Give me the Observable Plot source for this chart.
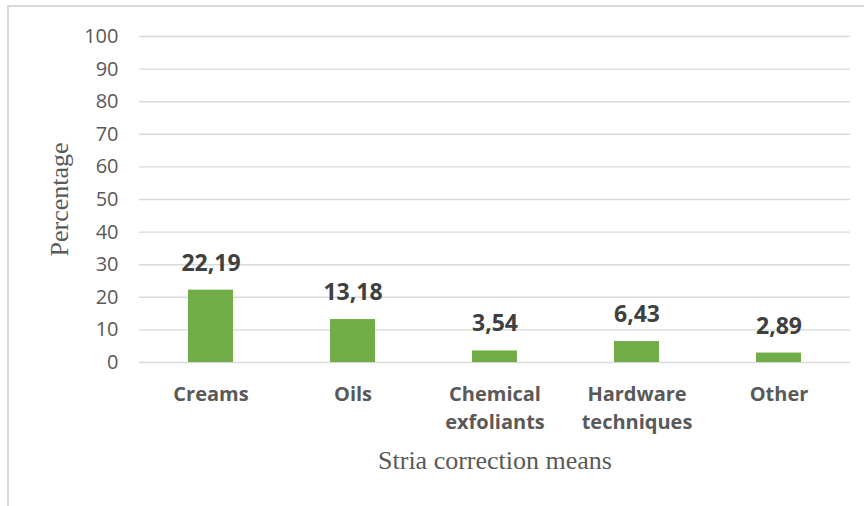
<!DOCTYPE html>
<html>
<head>
<meta charset="utf-8">
<script src="https://cdn.jsdelivr.net/npm/d3@7"></script>
<script src="https://cdn.jsdelivr.net/npm/@observablehq/plot@0.6"></script>
<style>
  html, body { margin: 0; padding: 0; background: #fff; overflow: hidden; }
  #wrap { position: relative; width: 864px; height: 506px; overflow: hidden; }
  #border { position: absolute; left: 7px; top: 5px; width: 900px; height: 600px;
            border-left: 2px solid #d9d9d9; border-top: 2px solid #d9d9d9; }
  #chart { position: absolute; left: 0; top: 0; }
</style>
</head>
<body>
<div id="wrap"><div id="border"></div><div id="chart"></div></div>
<script>
const categories = ["Creams", "Oils", "Chemical exfoliants", "Hardware techniques", "Other"];
const tickLabels = ["Creams", "Oils", "Chemical\nexfoliants", "Hardware\ntechniques", "Other"];
const values = [22.19, 13.18, 3.54, 6.43, 2.89];
const yTicks = [0, 10, 20, 30, 40, 50, 60, 70, 80, 90, 100];
const yTitle = "Percentage";
const xTitle = "Stria correction means";

const data = categories.map((c, i) => ({category: c, value: values[i]}));
const labelOf = new Map(categories.map((c, i) => [c, tickLabels[i]]));
const fmt = v => v.toFixed(2).replace(".", ",");

const sans = "'Open Sans', sans-serif";
const serif = "'Liberation Serif', 'Times New Roman', serif";

const chart = Plot.plot({
  width: 864,
  height: 506,
  marginLeft: 139,
  marginRight: 14,
  marginTop: 36,
  marginBottom: 144,
  style: {background: "transparent", fontFamily: sans},
  x: {domain: categories, paddingInner: 0.684, paddingOuter: 0.342, align: 0.5},
  y: {domain: [0, 100]},
  marks: [
    Plot.gridY(yTicks, {stroke: "#d9d9d9", strokeOpacity: 1, strokeWidth: 1.4}),
    Plot.barY(data, {x: "category", y: "value", fill: "#70ad47"}),
    Plot.text(data, {x: "category", y: "value", text: d => fmt(d.value), lineAnchor: "bottom", dy: -19.5,
      fontSize: 23, fontWeight: "bold", fill: "#404040", fontFamily: sans}),
    Plot.axisY(yTicks, {tickSize: 0, tickPadding: 21, fontSize: 20, fill: "#595959", label: null, fontFamily: sans}),
    Plot.axisX({tickSize: 0, tickPadding: 18.5, fontSize: 20, fontWeight: "bold", fill: "#595959", label: null,
      lineHeight: 1.4, tickFormat: c => labelOf.get(c), fontFamily: sans}),
    Plot.text([yTitle], {frameAnchor: "left", textAnchor: "middle", rotate: -90, dx: -72, lineAnchor: "bottom",
      fontSize: 26, fill: "#595959", fontFamily: serif}),
    Plot.text([xTitle], {frameAnchor: "bottom", textAnchor: "middle", dy: 106, lineAnchor: "bottom",
      fontSize: 26, fill: "#595959", fontFamily: serif})
  ]
});
document.getElementById("chart").appendChild(chart);
</script>
</body>
</html>
